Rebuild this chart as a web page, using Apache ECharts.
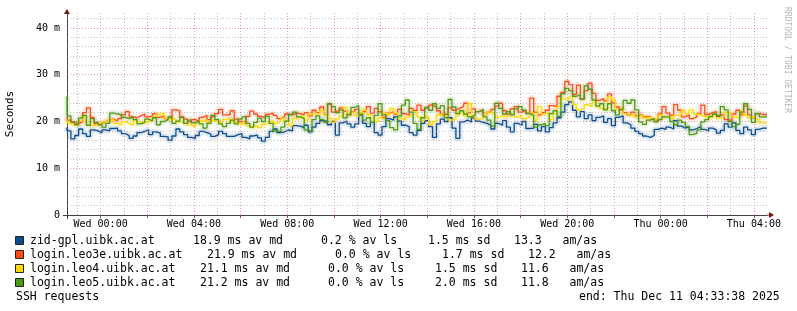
<!DOCTYPE html>
<html><head><meta charset="utf-8">
<script src="https://cdn.jsdelivr.net/npm/echarts@6/dist/echarts.min.js"></script>
<style>html,body{margin:0;padding:0;background:#fff}#c{width:797px;height:311px}</style>
</head><body><div id="c"></div>
<script>
// ---- data ----
const hosts = ['zid-gpl.uibk.ac.at', 'login.leo3e.uibk.ac.at', 'login.leo4.uibk.ac.at', 'login.leo5.uibk.ac.at'];
const colors = ['#0a4c8e', '#ff4a14', '#ffd900', '#4c9a14'];
const avMedian = ['18.9', '21.9', '21.1', '21.2'];
const avLoss = ['0.2', '0.0', '0.0', '0.0'];
const sdev = ['1.5', '1.7', '1.5', '2.0'];
const amas = ['13.3', '12.2', '11.6', '11.8'];
const title = 'SSH requests';
const endText = 'end: Thu Dec 11 04:33:38 2025';
const xLabelHours = [0, 4, 8, 12, 16, 20, 24, 28];
const xLabels = ['Wed 00:00', 'Wed 04:00', 'Wed 08:00', 'Wed 12:00', 'Wed 16:00', 'Wed 20:00', 'Thu 00:00', 'Thu 04:00'];
const yLabelValues = [0, 10, 20, 30, 40];
const yLabels = ['0', '10 m', '20 m', '30 m', '40 m'];
const startHour = -1.4394;   // Tue 22:33:38, hours relative to Wed 00:00
const endHour = 28.5606;     // Thu 04:33:38
const stepHours = 1 / 6;     // 10 minute steps
const yMax = 43.42;

// median RTT (ms) per 10-minute step
const zid = [
 18.7,18.0,16.3,17.0,18.4,17.4, 16.8,18.2,18.0,17.6,18.2,18.0, 18.5,18.6,18.0,17.4,17.0,16.4,
 16.9,17.6,17.9,18.2,17.2,17.8, 17.5,16.8,16.7,16.0,16.9,18.4, 17.8,17.2,16.6,16.4,17.0,17.9,
 17.6,17.3,16.8,17.2,17.9,17.4, 16.8,16.8,17.2,17.4,16.6,16.3, 16.9,17.1,16.5,15.8,16.6,17.9,
 18.4,17.6,17.8,18.2,18.0,19.1, 19.0,18.7,19.2,17.8,18.8,19.6, 20.2,20.0,19.3,20.0,17.1,19.7,
 20.1,19.5,18.8,19.5,21.4,19.6, 18.9,19.8,17.6,17.1,18.9,20.6, 20.3,21.0,20.1,19.2,18.9,17.6,
 17.1,18.1,19.6,20.2,18.9,16.6, 19.5,20.5,20.0,20.8,18.6,16.4, 19.9,20.3,19.9,20.8,20.1,19.8,
 19.6,19.2,18.4,19.6,19.2,20.2, 18.8,17.8,19.6,19.2,20.0,18.5, 18.6,19.4,18.0,18.9,17.8,18.7,
 19.7,20.8,22.0,23.6,24.2,22.4, 21.0,22.1,20.6,21.4,20.2,20.9, 21.2,19.8,20.6,19.1,20.9,21.2,
 19.7,19.3,18.6,17.9,17.4,16.9, 16.6,17.0,18.3,18.6,18.3,18.8, 18.4,20.2,19.0,18.6,18.9,18.2,
 18.5,18.9,18.3,18.0,18.6,18.2, 17.5,18.1,19.5,18.8,19.7,18.1, 17.4,18.8,18.2,17.2,18.3,18.6
];
const leo3e = [
 20.9,20.3,19.8,19.6,19.9,21.9, 22.9,20.8,19.5,19.6,20.0,20.3, 20.5,20.1,20.6,21.4,22.1,21.0,
 20.8,21.2,21.6,21.0,21.2,21.7, 20.9,21.2,20.6,21.0,22.5,22.3, 21.0,20.5,19.9,20.4,20.0,20.9,
 21.3,20.4,21.0,21.7,22.6,21.4, 21.5,22.3,20.5,20.0,19.6,21.1, 22.2,21.6,21.1,20.7,21.5,21.8,
 21.3,20.6,21.0,21.6,21.4,21.8, 21.7,21.4,21.9,21.2,22.4,21.9, 23.1,21.5,23.7,22.0,22.4,22.9,
 22.2,21.4,22.1,22.6,21.6,22.1, 23.2,21.8,22.8,22.1,20.9,21.8, 22.1,21.6,22.6,21.7,21.4,22.8,
 22.3,23.5,22.4,22.9,23.5,23.1, 22.3,21.5,21.6,22.9,22.4,22.8, 23.2,23.9,21.9,22.7,22.1,22.5,
 21.5,22.0,22.6,23.3,23.9,22.3, 21.6,22.7,23.2,22.0,22.4,21.8, 25.0,22.0,21.4,21.9,22.4,23.4,
 23.2,25.4,26.2,28.6,27.9,25.8, 27.8,24.8,26.6,28.2,26.0,24.5, 24.9,24.4,25.9,24.0,23.1,22.5,
 21.9,21.4,22.0,21.2,21.5,21.0, 21.1,20.5,20.2,21.6,23.2,21.8, 21.3,23.6,22.4,21.0,21.4,20.6,
 21.0,21.6,23.5,21.5,21.9,22.1, 21.3,21.5,20.4,20.2,21.6,22.4, 21.5,23.3,21.4,20.8,21.7,21.5
];
const leo4 = [
 20.6,19.7,19.3,19.2,20.2,21.0, 19.8,19.1,19.4,19.8,20.0,20.3, 20.4,19.6,19.3,19.9,19.6,19.2,
 20.3,19.7,20.0,19.8,20.3,21.0, 21.5,21.8,20.7,20.3,20.6,20.0, 19.7,19.4,19.2,18.9,19.6,20.1,
 20.4,19.7,20.2,19.9,19.6,20.4, 20.7,20.0,19.6,19.3,19.8,19.1, 18.8,19.2,18.7,19.4,19.8,20.2,
 19.6,20.0,20.7,20.2,19.1,20.6, 21.0,21.3,20.3,21.5,21.8,21.6, 22.4,21.4,20.7,19.8,20.5,21.2,
 23.0,21.4,22.0,21.2,21.8,22.5, 21.5,20.7,20.0,20.7,21.8,21.4, 22.8,21.8,20.7,20.3,21.0,21.4,
 22.1,21.0,20.3,21.1,19.3,20.0, 21.4,21.8,21.0,20.3,20.6,21.4, 22.0,21.2,23.8,21.0,20.5,20.7,
 21.5,22.0,21.6,20.9,21.2,21.0, 21.4,21.6,21.0,21.2,20.6,21.0, 21.8,20.3,23.2,21.6,21.9,20.4,
 21.7,23.2,24.9,24.6,25.2,23.6, 22.5,22.8,23.6,23.2,24.1,23.4, 22.8,22.6,25.3,24.6,22.6,23.0,
 21.7,21.3,21.7,21.0,21.4,20.7, 21.0,20.4,20.6,21.4,20.9,21.1, 20.6,21.3,21.5,22.3,21.6,22.5,
 21.6,21.4,21.0,21.3,20.8,21.4, 20.7,21.1,22.0,21.6,21.0,20.7, 22.0,21.3,20.8,21.0,20.4,19.7
];
const leo5 = [
 25.4,21.2,19.9,19.3,20.7,21.3, 19.2,20.6,19.8,19.3,18.8,19.6, 21.8,21.6,21.5,20.9,20.6,21.0,
 20.4,19.5,19.8,20.5,20.1,20.8, 19.3,20.0,20.4,21.0,19.6,20.1, 20.9,19.6,20.3,19.7,20.1,19.5,
 18.6,19.6,21.3,20.4,19.5,18.9, 19.6,20.3,19.5,20.5,21.0,19.6, 18.8,19.8,20.7,20.0,21.1,19.6,
 18.0,17.8,18.8,20.1,21.5,22.0, 21.0,20.6,18.2,17.9,20.4,21.2, 20.4,19.8,23.8,23.2,21.9,22.5,
 20.8,21.5,23.0,23.4,21.5,20.3, 20.8,19.8,21.3,23.8,21.4,20.2, 18.7,18.2,21.2,23.5,24.6,22.0,
 19.6,18.3,20.8,23.0,22.4,23.8, 22.8,23.4,20.8,24.7,23.1,21.7, 22.3,21.6,21.0,21.4,22.1,22.5,
 21.0,20.3,19.0,23.9,22.8,21.6, 22.1,21.4,22.7,23.2,22.4,21.7, 21.3,18.8,19.3,19.6,19.1,21.7,
 22.3,21.1,25.9,27.1,26.6,25.4, 25.7,24.8,27.6,26.9,24.6,23.3, 23.8,22.5,23.8,22.3,21.4,22.6,
 24.5,23.9,24.6,22.5,19.9,19.4, 20.3,20.6,19.9,20.4,21.0,21.0, 20.0,19.3,20.3,19.8,18.9,17.2,
 17.5,18.2,19.9,20.4,21.1,21.6, 21.1,23.2,22.5,20.0,18.9,19.4, 22.0,23.8,22.6,19.8,21.7,21.0
];
const seriesValues = [zid, leo3e, leo4, leo5];

// grid line positions
const vMinorHours = [-1,1,3,5,7,9,11,13,15,17,19,21,23,25,27];
const vMajorHours = [0,2,4,6,8,10,12,14,16,18,20,22,24,26,28];
const hMinor = [2,4,6,8,12,14,16,18,22,24,26,28,32,34,36,38,42];
const hMajor = [10,20,30,40];

// ---- chart ----
const mono = 'DejaVu Sans Mono';
const chart = echarts.init(document.getElementById('c'), null, {renderer: 'canvas'});

function stepData(vals) {
  const d = vals.map((v, i) => [startHour + i * stepHours, v]);
  d.push([startHour + vals.length * stepHours, vals[vals.length - 1]]);
  return d;
}

const minorStyle = {color: 'rgba(150,150,150,0.6)', type: [1, 2], width: 1};
const majorStyle = {color: 'rgba(220,90,90,0.6)', type: [1, 2], width: 1};

const gridMarks = [].concat(
  vMinorHours.map(h => ({xAxis: h, lineStyle: minorStyle})),
  vMajorHours.map(h => ({xAxis: h, lineStyle: majorStyle})),
  hMinor.map(v => ({yAxis: v, lineStyle: minorStyle})),
  hMajor.map(v => ({yAxis: v, lineStyle: majorStyle}))
);

const series = [{
  type: 'line', data: [], silent: true, z: 1,
  markLine: {silent: true, symbol: ['none', 'none'], label: {show: false}, animation: false, data: gridMarks}
}];
// faint "smoke" halo under each median line (same data, styling only)
seriesValues.forEach((vals, k) => {
  series.push({
    type: 'line', step: 'start', symbol: 'none', showSymbol: false, silent: true,
    data: stepData(vals), z: 2, animation: false,
    lineStyle: {color: colors[k], width: 6, opacity: 0.13}
  });
});
seriesValues.forEach((vals, k) => {
  series.push({
    name: hosts[k], type: 'line', step: 'start', symbol: 'none', showSymbol: false,
    data: stepData(vals), z: 3 + k, animation: false,
    lineStyle: {color: colors[k], width: 1.3}
  });
});

// legend graphics
const rowY = [241, 255, 269, 283];
const rowShift = [0, 14, 7, 7];
const graphics = [];
hosts.forEach((h, k) => {
  const y = rowY[k], s = rowShift[k];
  graphics.push({type: 'rect', shape: {x: 15.5, y: y - 4.5, width: 8, height: 8},
    style: {fill: colors[k], stroke: '#222', lineWidth: 1}});
  const txt = (x, t) => graphics.push({type: 'text', x: x, y: y,
    style: {text: t, font: '11.5px "' + mono + '"', fill: '#000', verticalAlign: 'middle'}});
  txt(30, h);
  txt(193 + s, avMedian[k] + ' ms av md');
  txt(321 + s, avLoss[k] + ' % av ls');
  txt(428 + s, sdev[k] + ' ms sd');
  txt(514 + s, amas[k] + '   am/as');
});
graphics.push({type: 'text', x: 16, y: 297, style: {text: title, font: '11.5px "' + mono + '"', fill: '#000', verticalAlign: 'middle'}});
graphics.push({type: 'text', x: 579, y: 297, style: {text: endText, font: '11.5px "' + mono + '"', fill: '#000', verticalAlign: 'middle'}});
graphics.push({type: 'text', x: 10, y: 114, rotation: Math.PI / 2,
  style: {text: 'Seconds', font: '11px "' + mono + '"', fill: '#000', align: 'center', verticalAlign: 'middle'}});
graphics.push({type: 'text', x: 787, y: 60, rotation: -Math.PI / 2,
  style: {text: 'RRDTOOL / TOBI OETIKER', font: '8px "' + mono + '"', fill: '#b4b4b4', align: 'center', verticalAlign: 'middle'}});

chart.setOption({
  backgroundColor: '#fff',
  animation: false,
  grid: {left: 67, right: 30, top: 12, bottom: 96, containLabel: false},
  xAxis: {
    type: 'value', min: startHour, max: endHour,
    axisLine: {show: true, onZero: false, lineStyle: {color: '#444', width: 1}},
    axisTick: {show: true, customValues: vMajorHours, length: 3, lineStyle: {color: '#b04040'}},
    splitLine: {show: false},
    axisLabel: {customValues: xLabelHours, formatter: v => xLabels[xLabelHours.indexOf(v)],
      fontFamily: mono, fontSize: 10, color: '#000', margin: 4}
  },
  yAxis: {
    type: 'value', min: 0, max: yMax,
    axisLine: {show: true, onZero: false, lineStyle: {color: '#444', width: 1}},
    axisTick: {show: false},
    splitLine: {show: false},
    axisLabel: {customValues: yLabelValues, formatter: v => yLabels[yLabelValues.indexOf(v)],
      fontFamily: mono, fontSize: 10, color: '#000', margin: 7}
  },
  series: series,
  graphic: graphics
});

// axis arrows and small axis overhangs placed through the axis scales
const pTop = chart.convertToPixel({gridIndex: 0}, [startHour, yMax]);
const pRight = chart.convertToPixel({gridIndex: 0}, [endHour, 0]);
const pOrigin = chart.convertToPixel({gridIndex: 0}, [startHour, 0]);
chart.setOption({graphic: graphics.concat([
  {type: 'polygon', shape: {points: [[pTop[0], pTop[1] - 3], [pTop[0] - 3, pTop[1] + 2], [pTop[0] + 3, pTop[1] + 2]]}, style: {fill: '#7a1010'}},
  {type: 'polygon', shape: {points: [[pRight[0] + 7, pRight[1]], [pRight[0] + 2, pRight[1] - 3], [pRight[0] + 2, pRight[1] + 3]]}, style: {fill: '#7a1010'}},
  {type: 'line', shape: {x1: pRight[0], y1: pRight[1], x2: pRight[0] + 3, y2: pRight[1]}, style: {stroke: '#444', lineWidth: 1}},
  {type: 'line', shape: {x1: pOrigin[0] - 4, y1: pOrigin[1] + 0.5, x2: pOrigin[0], y2: pOrigin[1] + 0.5}, style: {stroke: '#444', lineWidth: 1}},
  {type: 'line', shape: {x1: pOrigin[0] + 0.5, y1: pOrigin[1], x2: pOrigin[0] + 0.5, y2: pOrigin[1] + 4}, style: {stroke: '#444', lineWidth: 1}}
])});
</script>
</body></html>
